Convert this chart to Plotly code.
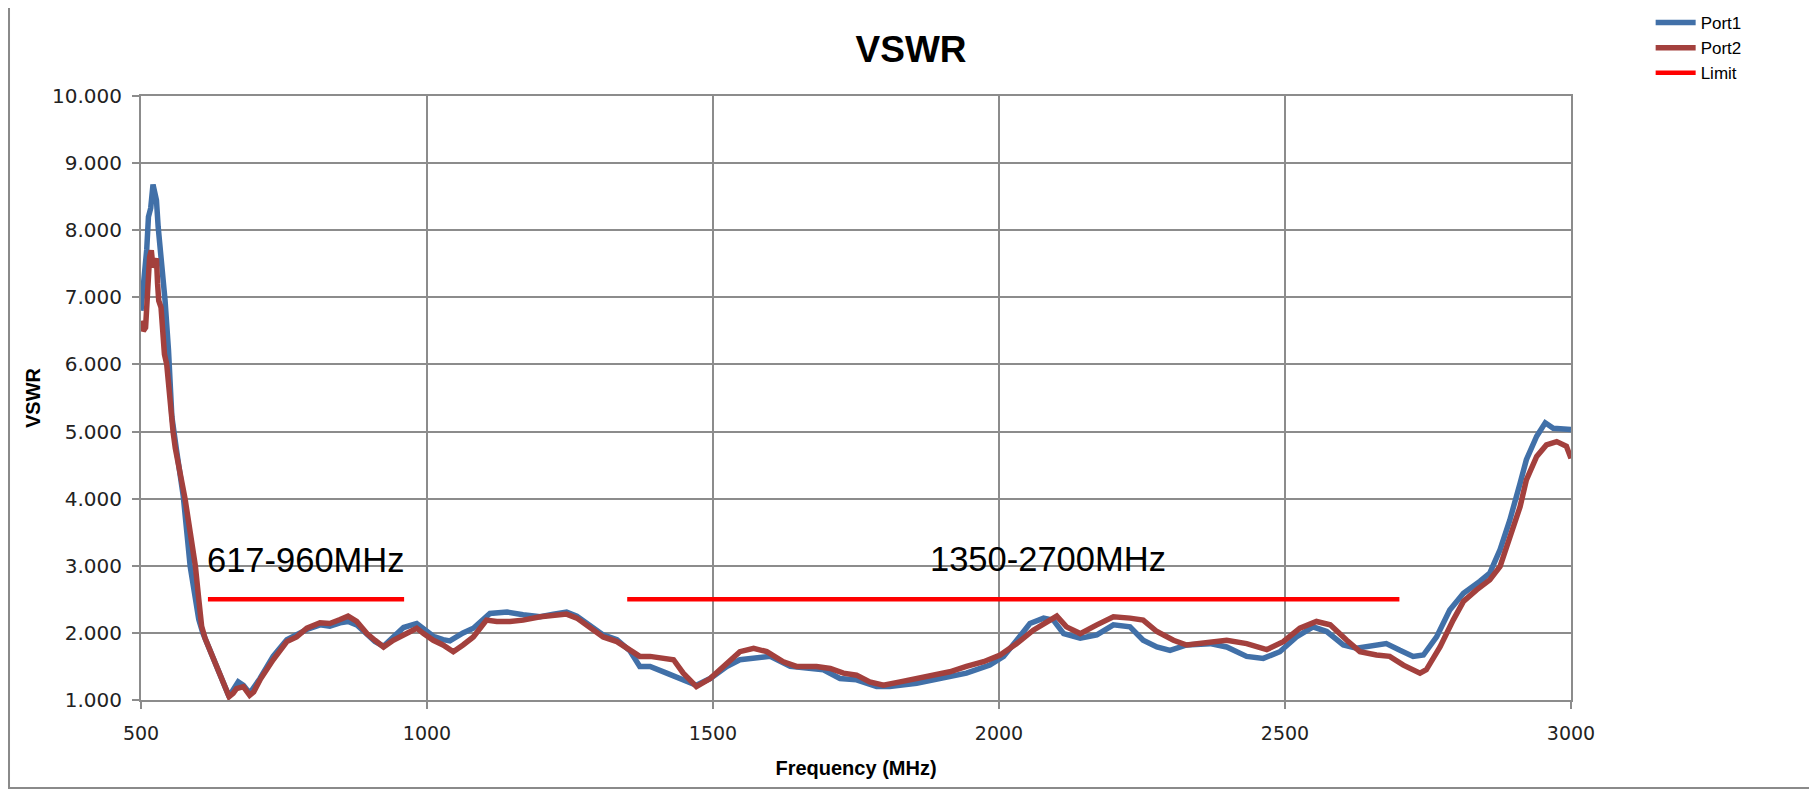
import plotly.graph_objects as go

# ---- data ----
port1_freq = [500, 505, 510, 513, 517, 521, 524, 527, 530, 533, 536, 539, 542, 548, 554, 562, 574, 586, 594,
              601, 608, 620, 632, 647, 654, 661, 670, 679, 690, 708, 731, 755, 772, 790, 813, 830, 848, 862,
              877, 895, 909, 924, 941, 959, 982, 994, 1011, 1028, 1040, 1063, 1081, 1110, 1140, 1168, 1198,
              1221, 1244, 1262, 1285, 1308, 1332, 1355, 1372, 1390, 1419, 1448, 1471, 1495, 1524, 1547, 1577,
              1600, 1635, 1663, 1693, 1722, 1751, 1786, 1809, 1856, 1902, 1943, 1984, 2008, 2031, 2054, 2078,
              2095, 2113, 2142, 2171, 2200, 2229, 2252, 2276, 2299, 2328, 2369, 2398, 2433, 2462, 2491, 2520,
              2549, 2573, 2602, 2625, 2654, 2677, 2701, 2724, 2742, 2765, 2788, 2812, 2841, 2858, 2876, 2893,
              2911, 2922, 2940, 2955, 2969, 2986, 3000]
port1_vswr = [6.80, 7.20, 7.71, 8.20, 8.33, 8.68, 8.55, 8.45, 8.05, 7.80, 7.61, 7.40, 6.96, 6.22, 5.22, 4.73,
              4.03, 2.99, 2.54, 2.20, 2.00, 1.75, 1.48, 1.15, 1.05, 1.15, 1.27, 1.22, 1.10, 1.32, 1.65, 1.90,
              1.97, 2.05, 2.12, 2.10, 2.15, 2.17, 2.12, 1.97, 1.87, 1.80, 1.95, 2.08, 2.14, 2.07, 1.95, 1.90,
              1.88, 2.00, 2.07, 2.29, 2.31, 2.27, 2.24, 2.28, 2.31, 2.25, 2.10, 1.97, 1.90, 1.73, 1.50, 1.50,
              1.40, 1.30, 1.22, 1.32, 1.50, 1.60, 1.62, 1.65, 1.50, 1.47, 1.45, 1.32, 1.30, 1.20, 1.20, 1.25,
              1.32, 1.40, 1.52, 1.65, 1.89, 2.14, 2.22, 2.19, 1.99, 1.92, 1.97, 2.12, 2.09, 1.89, 1.79, 1.74,
              1.82, 1.84, 1.79, 1.65, 1.62, 1.72, 1.94, 2.09, 2.02, 1.82, 1.77, 1.82, 1.84, 1.74, 1.65, 1.67,
              1.94, 2.34, 2.59, 2.77, 2.89, 3.24, 3.68, 4.23, 4.58, 4.93, 5.13, 5.05, 5.03, 5.03]

port2_freq = [500, 504, 508, 511, 515, 518, 521, 524, 527, 529, 531, 535, 538, 541, 545, 550, 556, 560, 566,
              571, 577, 586, 595, 601, 606, 612, 620, 632, 647, 654, 661, 667, 679, 690, 697, 708, 731, 755,
              772, 790, 813, 830, 848, 862, 877, 895, 909, 924, 941, 959, 982, 994, 1011, 1028, 1046, 1063,
              1081, 1104, 1122, 1145, 1168, 1198, 1221, 1244, 1262, 1285, 1308, 1332, 1355, 1372, 1390, 1431,
              1448, 1471, 1495, 1524, 1547, 1571, 1594, 1623, 1646, 1681, 1705, 1728, 1751, 1774, 1798, 1827,
              1856, 1885, 1914, 1943, 1973, 2002, 2031, 2060, 2083, 2101, 2118, 2142, 2171, 2200, 2229, 2252,
              2276, 2305, 2328, 2369, 2398, 2433, 2468, 2497, 2526, 2555, 2579, 2608, 2631, 2660, 2683, 2707,
              2736, 2747, 2771, 2794, 2812, 2835, 2858, 2876, 2893, 2911, 2922, 2940, 2957, 2975, 2992, 3000]
port2_vswr = [6.65, 6.50, 6.55, 7.10, 7.60, 7.70, 7.45, 7.50, 7.58, 7.20, 6.95, 6.85, 6.40, 6.15, 6.00, 5.50,
              5.00, 4.75, 4.50, 4.25, 4.00, 3.50, 3.00, 2.50, 2.10, 1.92, 1.75, 1.50, 1.17, 1.05, 1.10, 1.17,
              1.20, 1.07, 1.12, 1.30, 1.60, 1.87, 1.94, 2.07, 2.15, 2.14, 2.20, 2.25, 2.17, 1.99, 1.89, 1.79,
              1.89, 1.97, 2.07, 1.99, 1.89, 1.82, 1.72, 1.82, 1.94, 2.19, 2.17, 2.17, 2.19, 2.24, 2.27, 2.28,
              2.22, 2.09, 1.94, 1.87, 1.75, 1.65, 1.65, 1.60, 1.40, 1.20, 1.32, 1.55, 1.72, 1.77, 1.72, 1.57,
              1.50, 1.50, 1.47, 1.40, 1.37, 1.27, 1.22, 1.27, 1.32, 1.37, 1.42, 1.50, 1.57, 1.67, 1.84, 2.04,
              2.17, 2.25, 2.09, 1.99, 2.12, 2.24, 2.22, 2.19, 2.02, 1.89, 1.82, 1.87, 1.89, 1.84, 1.75, 1.87,
              2.07, 2.17, 2.12, 1.89, 1.72, 1.67, 1.65, 1.52, 1.40, 1.45, 1.79, 2.19, 2.47, 2.64, 2.79, 2.99,
              3.43, 3.88, 4.28, 4.63, 4.80, 4.85, 4.78, 4.60]

limit_freq = [617, 960, None, 1350, 2700]
limit_vswr = [2.5, 2.5, None, 2.5, 2.5]

band_labels = ["617-960MHz", "1350-2700MHz"]
band_label_freq = [788, 2085]
band_label_vswr = [3.09, 3.10]

x_ticks = [500, 1000, 1500, 2000, 2500, 3000]
y_ticks = [1, 2, 3, 4, 5, 6, 7, 8, 9, 10]

BLUE = "#4170A8"
RED = "#A3403D"
GRID = "#8C8C8C"

fig = go.Figure()
fig.add_trace(go.Scatter(x=port1_freq, y=port1_vswr, mode="lines", name="Port1",
                         line=dict(color=BLUE, width=5.5)))
fig.add_trace(go.Scatter(x=port2_freq, y=port2_vswr, mode="lines", name="Port2",
                         line=dict(color=RED, width=5.5)))
fig.add_trace(go.Scatter(x=limit_freq, y=limit_vswr, mode="lines", name="Limit",
                         line=dict(color="#FF0000", width=4.5), connectgaps=False))

for txt, fx, fy in zip(band_labels, band_label_freq, band_label_vswr):
    fig.add_annotation(x=fx, y=fy, text=txt, showarrow=False, xanchor="center", yanchor="middle",
                       font=dict(family="Liberation Sans, Arial", size=34.5, color="black"))

fig.add_shape(type="rect", xref="paper", yref="paper",
              x0=-0.0923, x1=1.1692, y0=-0.1457, y1=1.154,
              line=dict(color="#8A8A8A", width=2), fillcolor="rgba(0,0,0,0)", layer="below")

fig.update_layout(
    width=1809, height=782,
    margin=dict(l=133, r=246, t=88, b=90, autoexpand=False),
    paper_bgcolor="white", plot_bgcolor="white",
    title=dict(text="<b>VSWR</b>", xref="paper", x=0.5385, xanchor="center", y=0.9476, yanchor="middle",
               font=dict(family="Liberation Sans, Arial", size=37, color="black")),
    legend=dict(x=1.0557, y=1.1506, xanchor="left", yanchor="top",
                font=dict(family="Liberation Sans, Arial", size=17, color="black"),
                bgcolor="rgba(0,0,0,0)", tracegroupgap=0, itemwidth=40),
    showlegend=True,
    xaxis=dict(range=[500, 3000], tickvals=x_ticks, showgrid=True, gridcolor=GRID, gridwidth=2,
               showline=True, linecolor=GRID, linewidth=2, mirror=True,
               ticks="outside", ticklen=7, tickcolor=GRID, tickwidth=2, zeroline=False,
               ticklabelstandoff=8,
               tickfont=dict(family="DejaVu Sans", size=19, color="#222"),
               title=dict(text="<b>Frequency (MHz)</b>", standoff=18,
                          font=dict(family="Liberation Sans, Arial", size=20, color="black"))),
    yaxis=dict(range=[1, 10], tickvals=y_ticks, tickformat=".3f", showgrid=True, gridcolor=GRID,
               gridwidth=2, showline=True, linecolor=GRID, linewidth=2, mirror=True,
               ticks="outside", ticklen=7, tickcolor=GRID, tickwidth=2, zeroline=False,
               ticklabelstandoff=6,
               tickfont=dict(family="DejaVu Sans", size=20, color="#222"),
               title=dict(text="<b>VSWR</b>", standoff=6,
                          font=dict(family="Liberation Sans, Arial", size=20, color="black"))),
)

fig.write_html("out.html")
